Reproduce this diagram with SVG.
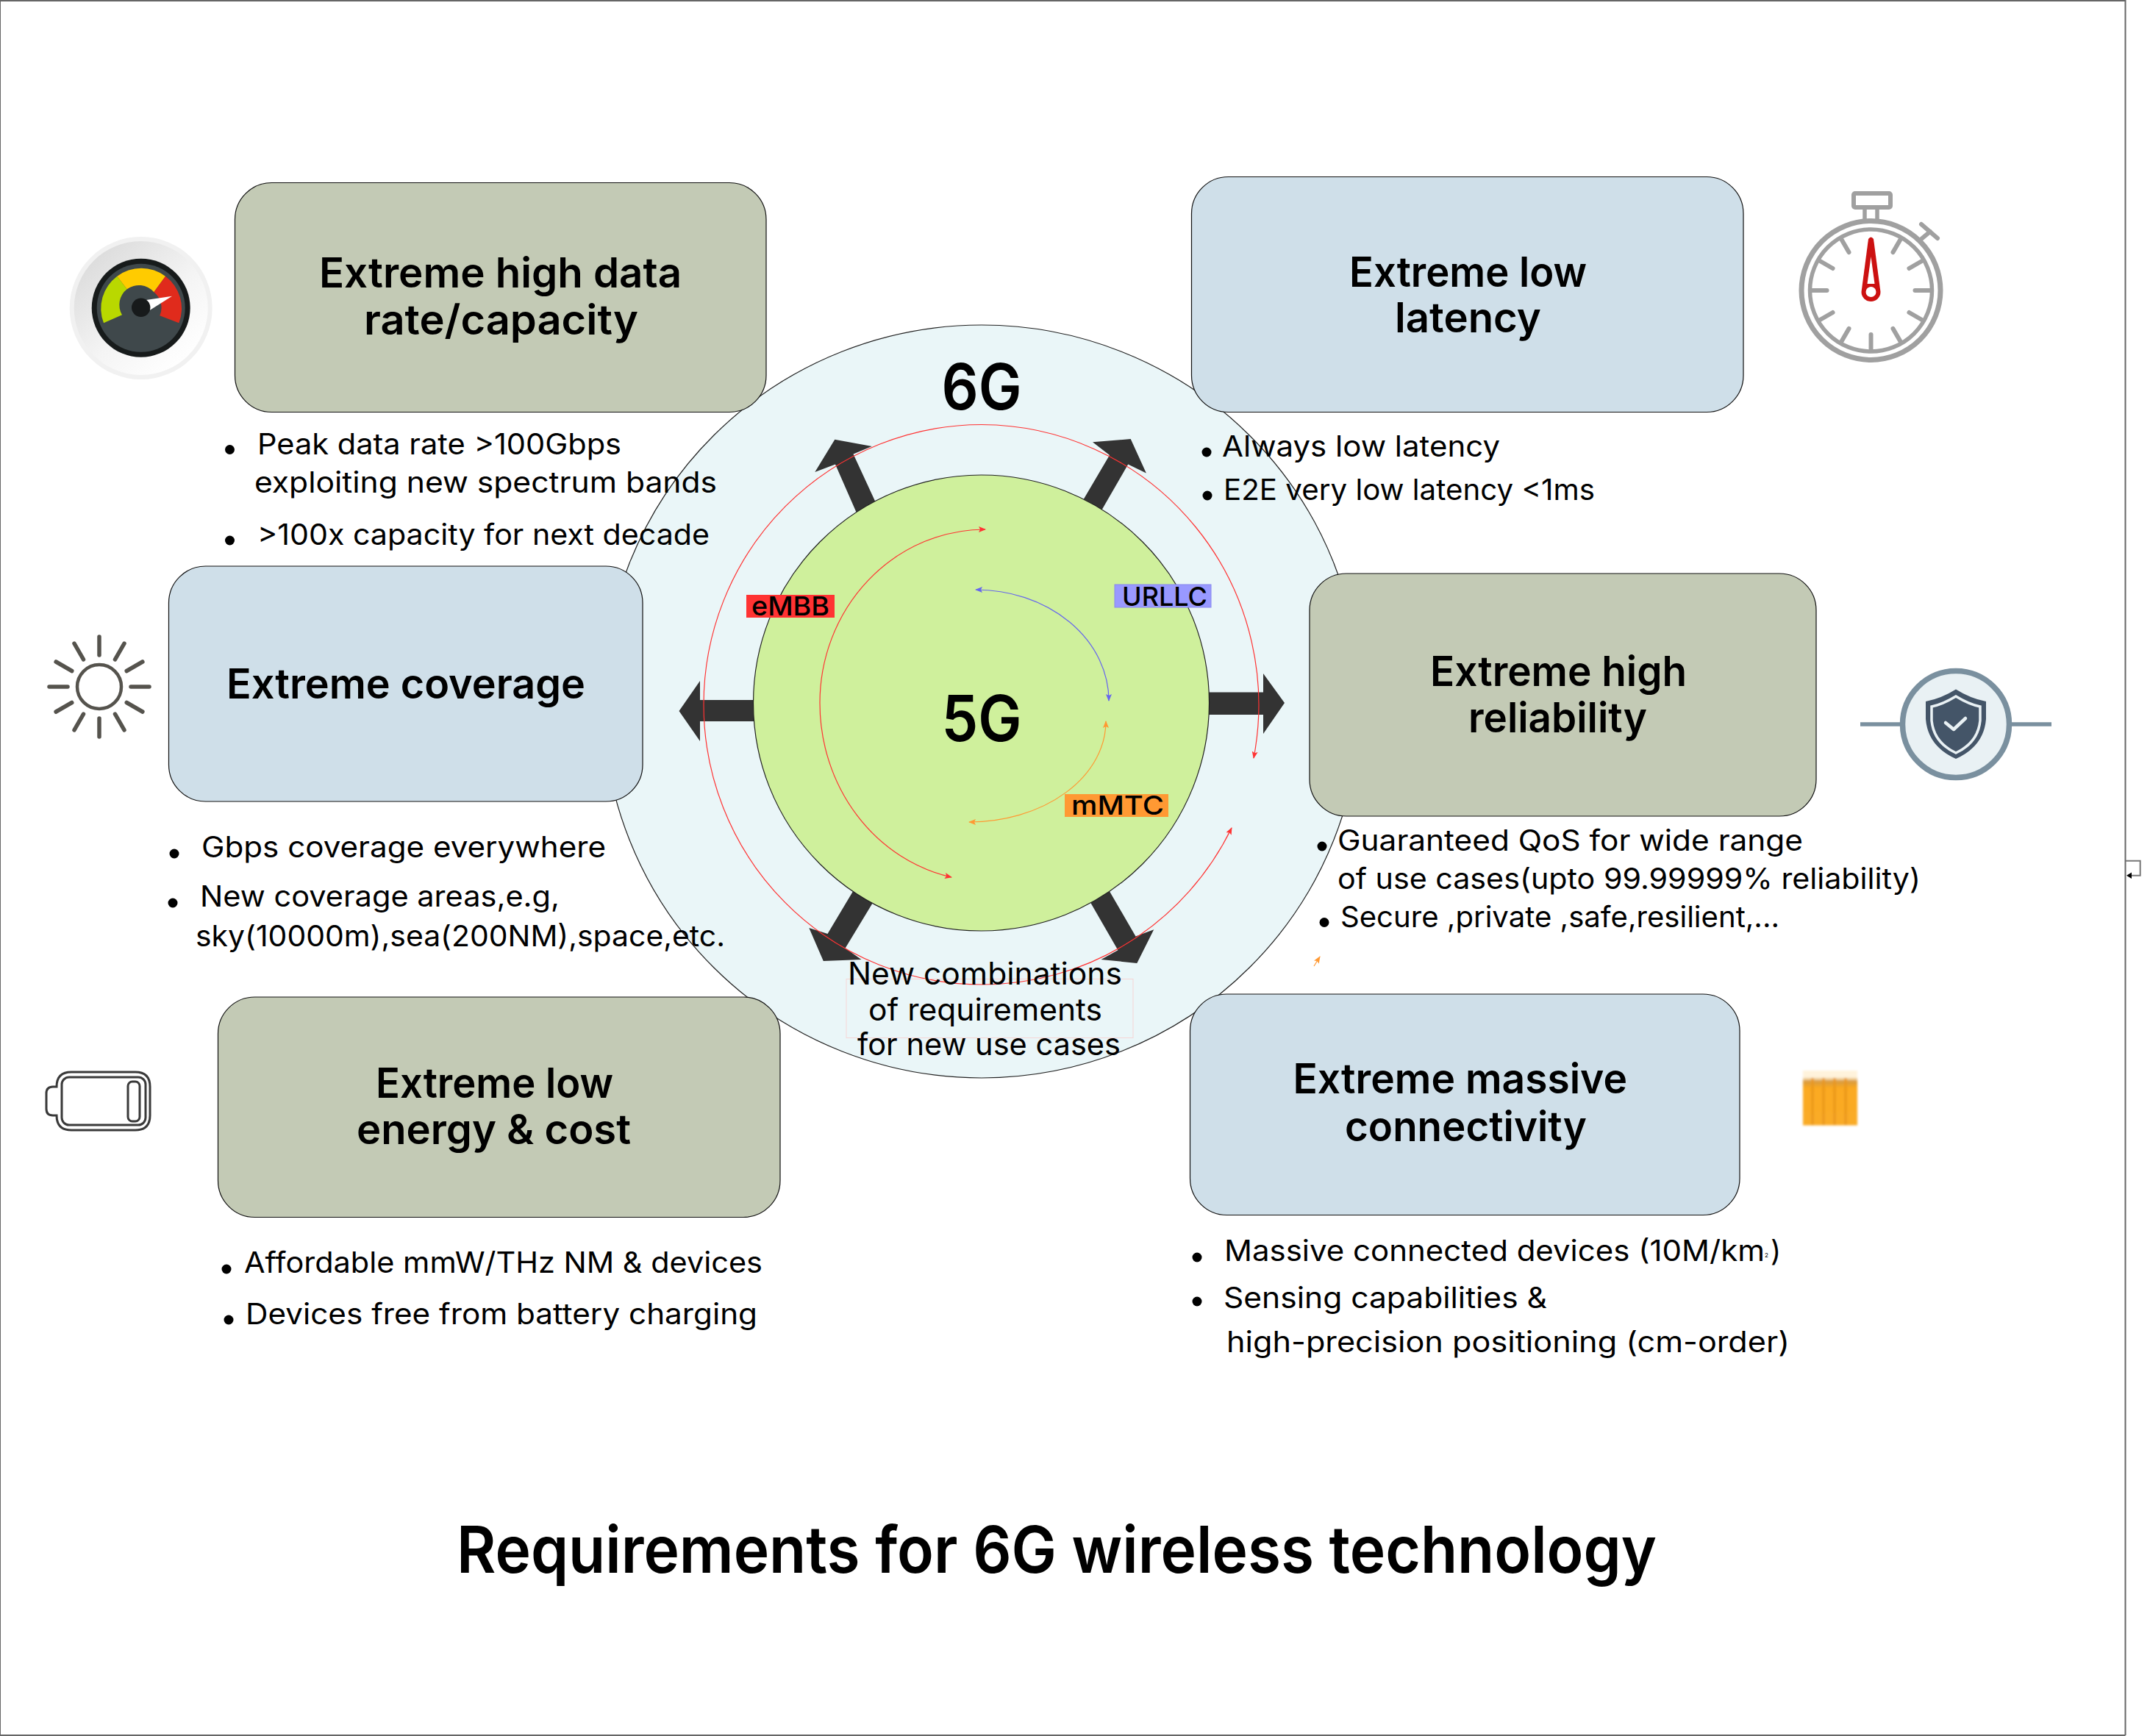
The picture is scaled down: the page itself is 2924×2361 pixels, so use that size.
<svg xmlns="http://www.w3.org/2000/svg" width="2924" height="2361" viewBox="0 0 2924 2361">
<style>
text{font-family:"Inter","Liberation Sans",sans-serif;fill:#000}
.t{font-size:56px;font-weight:600}
.b{font-size:39px;font-weight:400}
.g{font-size:86px;font-weight:600}
.l{font-size:36px;font-weight:500}
.n{font-size:42px;font-weight:400}
.box{stroke:#111;stroke-width:1.2}
.sage{fill:#c3cab5}
.blue{fill:#cfdfe9}
.arw{fill:#333}
.dot{fill:#000}
.thin{fill:none;stroke-width:1.2}
.tick{stroke:#a0a0a0;stroke-width:6;stroke-linecap:round;fill:none}
.ray{stroke:#55534d;stroke-width:5.5;stroke-linecap:round;fill:none}
.bat{fill:none;stroke:#3a3a3a;stroke-width:3}
</style>
<defs>
<marker id="mr" viewBox="0 0 10 8" refX="9" refY="4" markerWidth="10" markerHeight="8" markerUnits="userSpaceOnUse" orient="auto-start-reverse"><path d="M0 0L10 4L0 8L2 4Z" fill="#ff3333"/></marker>
<marker id="mb" viewBox="0 0 10 8" refX="9" refY="4" markerWidth="10" markerHeight="8" markerUnits="userSpaceOnUse" orient="auto-start-reverse"><path d="M0 0L10 4L0 8L2 4Z" fill="#6666ee"/></marker>
<marker id="mo" viewBox="0 0 10 8" refX="9" refY="4" markerWidth="10" markerHeight="8" markerUnits="userSpaceOnUse" orient="auto-start-reverse"><path d="M0 0L10 4L0 8L2 4Z" fill="#ff9933"/></marker>
<linearGradient id="gaugeBg" x1="0.15" y1="0.1" x2="0.85" y2="0.9"><stop offset="0" stop-color="#dcdcdc"/><stop offset="0.55" stop-color="#f4f4f4"/><stop offset="1" stop-color="#ffffff"/></linearGradient>
<linearGradient id="chipFill" x1="0" y1="0" x2="0" y2="1"><stop offset="0" stop-color="#fff3dc"/><stop offset="0.12" stop-color="#fff3dc"/><stop offset="0.2" stop-color="#d99a3c"/><stop offset="0.32" stop-color="#fba91f"/><stop offset="1" stop-color="#f9ab28"/></linearGradient>
<filter id="soft" x="-10%" y="-10%" width="120%" height="120%"><feGaussianBlur stdDeviation="1.4"/></filter>
</defs>

<rect width="2924" height="2361" fill="#fff"/>
<path id="page-frame" d="M0 2360V1H2890.5V2360M0 2360H2890.5" fill="none" stroke="#666" stroke-width="2"/>

<g id="ring-6g"><ellipse cx="1335" cy="954" rx="515" ry="512" fill="#eaf6f8" stroke="#222" stroke-width="1.2"/></g>

<g id="connectors">
<polygon class="arw" points="1025,952 952,952 952,926 923.5,967 952,1008 952,981 1025,981"/>
<polygon class="arw" points="1644,941.5 1718,941.5 1718,916 1747,956 1718,998 1718,972 1644,972"/>
<polygon class="arw" points="1164.6,696.7 1191,683.4 1160.5,617.5 1185.8,607 1135.3,597.8 1108.3,642 1136,631.5"/>
<polygon class="arw" points="1472.8,680.6 1498.6,693.2 1534.2,631.5 1558.9,643.4 1537.7,597.1 1486,601.3 1509,618.9"/>
<polygon class="arw" points="1160,1212.3 1187,1227.8 1149.6,1289.5 1171.4,1305 1119.8,1307 1100.3,1262 1125.5,1269.9"/>
<polygon class="arw" points="1482.5,1226.4 1509,1212.3 1544.5,1273.4 1569.2,1264.3 1546.3,1309.9 1497.5,1305 1520.4,1292.3"/>
</g>

<g id="core-5g"><ellipse cx="1334.5" cy="956" rx="310" ry="310" fill="#cff09c" stroke="#222" stroke-width="1.2"/>
<text class="g" x="1280.5" y="1008" textLength="109" lengthAdjust="spacingAndGlyphs">5G</text></g>
<g id="label-6g"><text class="g" x="1280.5" y="557" textLength="109" lengthAdjust="spacingAndGlyphs">6G</text></g>

<g id="arcs">
<path class="thin" stroke="#ff3333" marker-start="url(#mr)" marker-end="url(#mr)" d="M1705 1031A378 381 0 0 0 1335 577.5A378 381 0 0 0 957 958A378 381 0 0 0 1335 1339A378 381 0 0 0 1675 1126"/>
<path class="thin" stroke="#ff3333" marker-start="url(#mr)" marker-end="url(#mr)" d="M1340 720A225 236 0 0 0 1115 956A225 242 0 0 0 1294 1193"/>
<path class="thin" stroke="#6666ee" marker-start="url(#mb)" marker-end="url(#mb)" d="M1327 802A181 151 0 0 1 1508 953"/>
<path class="thin" stroke="#ff9933" marker-start="url(#mo)" marker-end="url(#mo)" d="M1504 981A186 137 0 0 1 1318 1118"/>
<path class="thin" stroke="#ff9933" marker-end="url(#mo)" d="M1787 1314L1795 1301"/>
</g>

<g id="tag-embb"><rect x="1015" y="809" width="120" height="31" fill="#ff3333"/><text class="l" x="1022" y="837" textLength="106" lengthAdjust="spacingAndGlyphs">eMBB</text></g>
<g id="tag-urllc"><rect x="1516" y="795" width="131" height="31" fill="#9999ff" stroke="#8888ee"/><text class="l" x="1526" y="824" textLength="116" lengthAdjust="spacingAndGlyphs">URLLC</text></g>
<g id="tag-mmtc"><rect x="1448" y="1080" width="141" height="31" fill="#ff9933"/><text class="l" x="1457" y="1108" textLength="126" lengthAdjust="spacingAndGlyphs">mMTC</text></g>

<g id="new-combinations">
<rect x="1151" y="1331.5" width="390" height="80" fill="none" stroke="#f5d5d5" stroke-width="1"/>
<text class="n" x="1153" y="1339" textLength="373" lengthAdjust="spacingAndGlyphs">New combinations</text>
<text class="n" x="1181" y="1388" textLength="318" lengthAdjust="spacingAndGlyphs">of requirements</text>
<text class="n" x="1166" y="1435" textLength="358" lengthAdjust="spacingAndGlyphs">for new use cases</text>
</g>

<g id="node-data-rate">
<rect class="box sage" x="319.5" y="248.5" width="722.5" height="312" rx="50" ry="50"/>
<text class="t" x="434" y="391" textLength="493" lengthAdjust="spacingAndGlyphs">Extreme high data</text>
<text class="t" x="495" y="455" textLength="373" lengthAdjust="spacingAndGlyphs">rate/capacity</text>
<circle class="dot" cx="312.5" cy="611.5" r="6.5"/><circle class="dot" cx="312.5" cy="735" r="6.5"/>
<text class="b" x="350" y="618" textLength="495" lengthAdjust="spacingAndGlyphs">Peak data rate &gt;100Gbps</text>
<text class="b" x="346" y="670" textLength="629" lengthAdjust="spacingAndGlyphs">exploiting new spectrum bands</text>
<text class="b" x="350" y="741" textLength="615" lengthAdjust="spacingAndGlyphs">&gt;100x capacity for next decade</text>
</g>

<g id="node-latency">
<rect class="box blue" x="1620.5" y="240.5" width="750.5" height="320" rx="50" ry="50"/>
<text class="t" x="1835" y="390" textLength="323" lengthAdjust="spacingAndGlyphs">Extreme low</text>
<text class="t" x="1897" y="452" textLength="199" lengthAdjust="spacingAndGlyphs">latency</text>
<circle class="dot" cx="1641" cy="615" r="6.5"/><circle class="dot" cx="1642" cy="674" r="6.5"/>
<text class="b" x="1662" y="621" textLength="378" lengthAdjust="spacingAndGlyphs">Always low latency</text>
<text class="b" x="1664" y="680" textLength="505" lengthAdjust="spacingAndGlyphs">E2E very low latency &lt;1ms</text>
</g>

<g id="node-coverage">
<rect class="box blue" x="229.5" y="770" width="644.5" height="320" rx="50" ry="50"/>
<text class="t" x="308" y="950" textLength="488" lengthAdjust="spacingAndGlyphs">Extreme coverage</text>
<circle class="dot" cx="237" cy="1161" r="6.5"/><circle class="dot" cx="235" cy="1228" r="6.5"/>
<text class="b" x="274" y="1166" textLength="550" lengthAdjust="spacingAndGlyphs">Gbps coverage everywhere</text>
<text class="b" x="272" y="1233" textLength="489" lengthAdjust="spacingAndGlyphs">New coverage areas,e.g,</text>
<text class="b" x="266" y="1287" textLength="720" lengthAdjust="spacingAndGlyphs">sky(10000m),sea(200NM),space,etc.</text>
</g>

<g id="node-reliability">
<rect class="box sage" x="1781" y="780" width="689" height="330" rx="50" ry="50"/>
<text class="t" x="1945" y="933" textLength="349" lengthAdjust="spacingAndGlyphs">Extreme high</text>
<text class="t" x="1997" y="996" textLength="243" lengthAdjust="spacingAndGlyphs">reliability</text>
<circle class="dot" cx="1798" cy="1151" r="6.5"/><circle class="dot" cx="1801" cy="1254.5" r="6.5"/>
<text class="b" x="1819" y="1157" textLength="633" lengthAdjust="spacingAndGlyphs">Guaranteed QoS for wide range</text>
<text class="b" x="1819" y="1209" textLength="793" lengthAdjust="spacingAndGlyphs">of use cases(upto 99.99999% reliability)</text>
<text class="b" x="1823" y="1261" textLength="597" lengthAdjust="spacingAndGlyphs">Secure ,private ,safe,resilient,...</text>
</g>

<g id="node-energy">
<rect class="box sage" x="296.5" y="1356" width="764.5" height="299.5" rx="50" ry="50"/>
<text class="t" x="511" y="1493" textLength="323" lengthAdjust="spacingAndGlyphs">Extreme low</text>
<text class="t" x="485" y="1556" textLength="373" lengthAdjust="spacingAndGlyphs">energy &amp; cost</text>
<circle class="dot" cx="308" cy="1726" r="6.5"/><circle class="dot" cx="311" cy="1795" r="6.5"/>
<text class="b" x="332" y="1731" textLength="705" lengthAdjust="spacingAndGlyphs">Affordable mmW/THz NM &amp; devices</text>
<text class="b" x="334" y="1801" textLength="696" lengthAdjust="spacingAndGlyphs">Devices free from battery charging</text>
</g>

<g id="node-massive">
<rect class="box blue" x="1618.5" y="1352" width="747.5" height="300.5" rx="50" ry="50"/>
<text class="t" x="1758.5" y="1487" textLength="454.5" lengthAdjust="spacingAndGlyphs">Extreme massive</text>
<text class="t" x="1829" y="1552" textLength="329" lengthAdjust="spacingAndGlyphs">connectivity</text>
<circle class="dot" cx="1628" cy="1710" r="6.5"/><circle class="dot" cx="1628" cy="1770" r="6.5"/>
<text class="b" x="1665" y="1715" textLength="735" lengthAdjust="spacingAndGlyphs">Massive connected devices (10M/km</text>
<text style="font-size:8px" x="2400" y="1710">2</text>
<text class="b" x="2408" y="1715">)</text>
<text class="b" x="1664" y="1779" textLength="440" lengthAdjust="spacingAndGlyphs">Sensing capabilities &amp;</text>
<text class="b" x="1668" y="1839" textLength="766" lengthAdjust="spacingAndGlyphs">high-precision positioning (cm-order)</text>
</g>

<g id="icon-gauge">
<circle cx="191.7" cy="419" r="97" fill="#f1f1f1"/>
<circle cx="191.7" cy="419" r="91" fill="url(#gaugeBg)"/>
<circle cx="191.7" cy="418.7" r="67" fill="#171b1b"/>
<circle cx="191.7" cy="418.7" r="60" fill="#3f484b"/>
<path d="M141 439.3A54.5 54.5 0 0 1 159.3 375.7L172.7 393.3A27 27 0 0 0 166 428.3Z" fill="#b9d800"/>
<path d="M159.3 375.7A54.5 54.5 0 0 1 225 375.7L209.3 397.3A27 27 0 0 0 172.7 393.3Z" fill="#ffcb00"/>
<path d="M225 375.7A54.5 54.5 0 0 1 243.3 439.3L217.3 429.3A27 27 0 0 0 209.3 397.3Z" fill="#e02b1c"/>
<polygon points="197.3,408.3 234,402.7 204,421.7" fill="#fff"/>
<circle cx="191.7" cy="418.3" r="12.7" fill="#171a1b"/>
</g>

<g id="icon-stopwatch">
<circle cx="2544.5" cy="395" r="94.5" fill="#fff" stroke="#a0a0a0" stroke-width="7"/>
<circle cx="2544.5" cy="395" r="83" fill="none" stroke="#a0a0a0" stroke-width="5.5"/>
<rect x="2521" y="263" width="50" height="19" rx="2" fill="none" stroke="#a0a0a0" stroke-width="6"/>
<path d="M2536 284V298M2553 284V298" fill="none" stroke="#a0a0a0" stroke-width="5.5"/>
<path class="tick" d="M2613 305L2635 324M2613 325L2625 315"/>
<g class="tick">
<path d="M2544.5 315V335" transform="rotate(30 2544.5 395)"/>
<path d="M2544.5 315V335" transform="rotate(60 2544.5 395)"/>
<path d="M2544.5 315V335" transform="rotate(90 2544.5 395)"/>
<path d="M2544.5 315V335" transform="rotate(120 2544.5 395)"/>
<path d="M2544.5 315V335" transform="rotate(150 2544.5 395)"/>
<path d="M2544.5 315V335" transform="rotate(180 2544.5 395)"/>
<path d="M2544.5 315V335" transform="rotate(210 2544.5 395)"/>
<path d="M2544.5 315V335" transform="rotate(240 2544.5 395)"/>
<path d="M2544.5 315V335" transform="rotate(270 2544.5 395)"/>
<path d="M2544.5 315V335" transform="rotate(300 2544.5 395)"/>
<path d="M2544.5 315V335" transform="rotate(330 2544.5 395)"/>
</g>
<path d="M2541 325Q2544.5 320 2548 325L2557.5 397A13 13 0 1 1 2531.5 397Z" fill="#cc1111"/>
<path d="M2544.5 349L2549.5 386H2539.5Z" fill="#fff"/>
<circle cx="2544.5" cy="397" r="7" fill="#fff"/>
</g>

<g id="icon-sun">
<circle cx="135" cy="934" r="30" fill="none" stroke="#55534d" stroke-width="4.5"/>
<g class="ray">
<path d="M135 866V891"/><path d="M135 866V891" transform="rotate(30 135 934)"/><path d="M135 866V891" transform="rotate(60 135 934)"/><path d="M135 866V891" transform="rotate(90 135 934)"/><path d="M135 866V891" transform="rotate(120 135 934)"/><path d="M135 866V891" transform="rotate(150 135 934)"/><path d="M135 866V891" transform="rotate(180 135 934)"/><path d="M135 866V891" transform="rotate(210 135 934)"/><path d="M135 866V891" transform="rotate(240 135 934)"/><path d="M135 866V891" transform="rotate(270 135 934)"/><path d="M135 866V891" transform="rotate(300 135 934)"/><path d="M135 866V891" transform="rotate(330 135 934)"/>
</g>
</g>

<g id="icon-shield">
<path d="M2530 985H2584M2736 985H2790" fill="none" stroke="#7a909f" stroke-width="5.5"/>
<circle cx="2660" cy="985" r="72.5" fill="#e9f1f4" stroke="#7a909f" stroke-width="7.5"/>
<path d="M2660 937.5Q2640 950 2619 954V978Q2622 1015 2660 1032Q2698 1015 2701 978V954Q2680 950 2660 937.5Z" fill="#445568"/>
<path d="M2660 947Q2642 958 2627 961V980Q2630 1010 2660 1024Q2690 1010 2693 980V961Q2678 958 2660 947Z" fill="#445568" stroke="#e9f1f4" stroke-width="3.5"/>
<path d="M2646 983L2657 992L2673 977" fill="none" stroke="#e9f1f4" stroke-width="4.5" stroke-linecap="round" stroke-linejoin="round"/>
</g>

<g id="icon-battery">
<path class="bat" d="M77 1478V1478Q77 1458 97 1458H184Q204 1458 204 1478V1517Q204 1537 184 1537H97Q77 1537 77 1517H72Q63 1517 63 1508V1487Q63 1478 72 1478Z"/>
<rect class="bat" x="84" y="1465" width="114" height="65" rx="10"/>
<rect class="bat" x="174" y="1471" width="16" height="54" rx="6"/>
</g>

<g id="icon-chip" filter="url(#soft)">
<rect x="2452" y="1456" width="74" height="74.5" fill="url(#chipFill)"/>
<path d="M2465 1466V1530M2480 1466V1530M2495 1466V1530M2510 1466V1530" stroke="#e9961a" stroke-width="3" fill="none"/>
</g>

<g id="return-mark"><path d="M2891 1170.7H2910.7V1190.7H2897" fill="none" stroke="#777" stroke-width="2"/><path d="M2892 1190.7L2899 1186.5V1195Z" fill="#000"/></g>

<g id="title"><text style="font-size:88px;font-weight:600" x="621" y="2139" textLength="1632" lengthAdjust="spacingAndGlyphs">Requirements for 6G wireless technology</text></g>
</svg>
